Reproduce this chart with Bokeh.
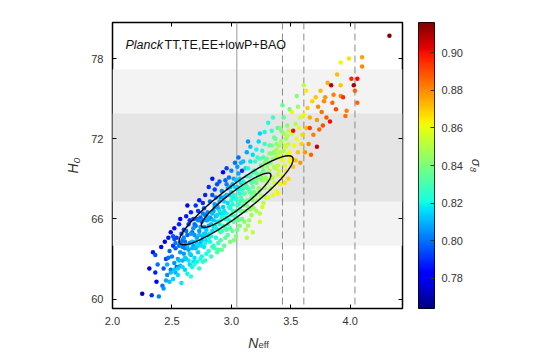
import numpy as np
from bokeh.plotting import figure
from bokeh.layouts import row, column
from bokeh.core.properties import value
from bokeh.models import (ColumnDataSource, LinearColorMapper, FixedTicker, CustomJSTickFormatter,
                          PrintfTickFormatter, BoxAnnotation, Span, Label, LinearAxis, Range1d)
from bokeh.embed import file_html
from bokeh.resources import INLINE

# ---- MCMC samples: N_eff, H0, sigma8 ----
neff = [
    2.25, 2.31, 2.33, 2.34, 2.36, 2.37, 2.38, 2.39, 2.36,
    2.41, 2.42, 2.43, 2.43, 2.44, 2.45, 2.46, 2.46, 2.47, 2.48, 2.48, 2.49, 2.49, 2.45,
    2.50, 2.51, 2.51, 2.52, 2.52, 2.53, 2.53, 2.54, 2.55, 2.55, 2.56, 2.56, 2.57, 2.57, 2.58, 2.58, 2.59, 2.59, 2.54, 2.57, 2.52, 2.59,
    2.60, 2.60, 2.61, 2.61, 2.62, 2.62, 2.63, 2.63, 2.64, 2.64, 2.65, 2.65, 2.66, 2.66, 2.67, 2.67, 2.68, 2.68, 2.69, 2.69, 2.62, 2.65, 2.66, 2.68, 2.63, 2.69, 2.61, 2.67,
    2.70, 2.70, 2.71, 2.71, 2.72, 2.72, 2.73, 2.73, 2.74, 2.74, 2.75, 2.75, 2.76, 2.76, 2.77, 2.77, 2.78, 2.78, 2.79, 2.79, 2.71, 2.73, 2.74, 2.76, 2.77, 2.78, 2.72, 2.75, 2.79, 2.70, 2.76, 2.78,
    2.80, 2.80, 2.81, 2.81, 2.82, 2.82, 2.83, 2.83, 2.84, 2.84, 2.85, 2.85, 2.86, 2.86, 2.87, 2.87, 2.88, 2.88, 2.89, 2.89, 2.81, 2.83, 2.84, 2.85, 2.86, 2.87, 2.88, 2.89, 2.82, 2.86, 2.84, 2.88, 2.80, 2.89,
    2.90, 2.90, 2.91, 2.91, 2.92, 2.92, 2.93, 2.93, 2.94, 2.94, 2.95, 2.95, 2.96, 2.96, 2.97, 2.97, 2.98, 2.98, 2.99, 2.99, 2.90, 2.91, 2.92, 2.93, 2.94, 2.95, 2.96, 2.97, 2.98, 2.99, 2.93, 2.95, 2.97, 2.91, 2.99, 2.96,
    3.00, 3.00, 3.01, 3.01, 3.02, 3.02, 3.03, 3.03, 3.04, 3.04, 3.05, 3.05, 3.06, 3.06, 3.07, 3.07, 3.08, 3.08, 3.09, 3.09, 3.00, 3.01, 3.02, 3.03, 3.04, 3.05, 3.06, 3.07, 3.08, 3.09, 3.03, 3.05, 3.07, 3.01, 3.09, 3.06,
    3.10, 3.10, 3.11, 3.11, 3.12, 3.12, 3.13, 3.13, 3.14, 3.14, 3.15, 3.15, 3.16, 3.16, 3.17, 3.17, 3.18, 3.18, 3.19, 3.19, 3.10, 3.11, 3.12, 3.13, 3.14, 3.15, 3.16, 3.17, 3.18, 3.19, 3.14, 3.16, 3.13, 3.18,
    3.20, 3.20, 3.21, 3.21, 3.22, 3.22, 3.23, 3.23, 3.24, 3.24, 3.25, 3.25, 3.26, 3.26, 3.27, 3.27, 3.28, 3.28, 3.29, 3.29, 3.21, 3.23, 3.24, 3.25, 3.26, 3.27, 3.28, 3.29, 3.24,
    3.30, 3.30, 3.31, 3.32, 3.32, 3.33, 3.33, 3.34, 3.35, 3.35, 3.36, 3.36, 3.37, 3.37, 3.38, 3.38, 3.39, 3.39, 3.31, 3.34, 3.35, 3.36, 3.38, 3.39,
    3.40, 3.40, 3.41, 3.42, 3.42, 3.43, 3.44, 3.44, 3.45, 3.45, 3.46, 3.46, 3.47, 3.47, 3.48, 3.48, 3.49, 3.49, 3.43, 3.41,
    3.50, 3.51, 3.51, 3.52, 3.52, 3.53, 3.54, 3.54, 3.55, 3.56, 3.56, 3.57, 3.58, 3.58, 3.59, 3.55,
    3.60, 3.61, 3.62, 3.63, 3.63, 3.64, 3.65, 3.66, 3.66, 3.67, 3.68, 3.69, 3.61,
    3.71, 3.72, 3.72, 3.73, 3.74, 3.75, 3.76, 3.77, 3.78, 3.79,
    3.80, 3.81, 3.83, 3.84, 3.85, 3.86, 3.88, 3.89,
    3.92, 3.92, 3.92, 3.94, 3.96, 3.97, 3.99,
    4.01, 4.03, 4.04, 4.06, 4.06, 4.10, 4.10, 4.33,
    2.47, 2.51, 2.53, 2.56, 2.58, 2.60, 2.62, 2.64, 2.66, 2.68, 2.70, 2.72, 2.74, 2.76, 2.78, 2.80, 2.82, 2.84, 2.86, 2.88, 2.90, 2.92, 2.94, 2.96, 2.98,
    3.00, 3.02, 3.04, 3.06, 3.08, 3.10, 3.12, 3.14, 3.16, 3.18, 3.20, 3.22, 3.24, 3.26, 3.28, 3.30, 3.32, 3.34, 3.36, 3.38, 3.40, 3.42, 3.44, 3.46, 3.48,
    2.49, 2.52, 2.55, 2.57, 2.59, 2.61, 2.63, 2.65, 2.67, 2.69, 2.71, 2.73, 2.75, 2.77, 2.79, 2.81, 2.83, 2.85, 2.87, 2.89, 2.91, 2.93, 2.95, 2.97, 2.99,
    3.01, 3.03, 3.05, 3.07, 3.09, 3.11, 3.13, 3.15, 3.17, 3.19, 3.21, 3.23, 3.25, 3.27, 3.29, 3.31, 3.33, 3.35, 3.37, 3.39, 3.41, 3.43, 3.45, 3.47, 3.49,
]
h0 = [
    60.4, 62.3, 60.3, 63.5, 63.3, 61.3, 62.6, 60.2, 62.0,
    63.9, 61.0, 62.3, 60.8, 64.3, 63.0, 61.8, 62.6, 64.6, 63.6, 61.3, 62.2, 65.0, 61.4,
    63.2, 64.0, 61.5, 62.7, 65.3, 63.8, 62.0, 64.6, 63.0, 61.8, 65.6, 64.0, 62.5, 63.5, 64.9, 61.2, 62.9, 63.9, 62.4, 66.0, 64.5, 64.4,
    63.4, 65.2, 62.2, 64.3, 66.2, 63.0, 64.8, 61.9, 63.7, 65.6, 62.6, 64.2, 66.5, 63.3, 65.0, 62.4, 64.0, 66.0, 63.1, 64.8, 64.0, 65.9, 61.7, 62.8, 67.0, 65.6, 63.8, 63.8,
    63.8, 65.5, 62.8, 64.6, 66.6, 63.5, 65.1, 62.3, 64.2, 66.1, 63.2, 65.8, 64.7, 67.2, 63.9, 65.4, 62.9, 66.3, 64.4, 65.9, 66.0, 67.4, 63.0, 62.8, 66.8, 64.9, 64.0, 64.4, 63.4, 67.0, 65.9, 67.8,
    64.8, 66.5, 63.6, 65.5, 67.3, 64.3, 66.0, 63.2, 65.1, 67.8, 64.0, 66.6, 65.5, 68.2, 64.6, 66.2, 63.5, 67.0, 65.2, 66.8, 68.4, 65.6, 63.9, 65.4, 63.8, 67.6, 65.8, 64.2, 66.1, 66.9, 69.0, 68.6, 65.9, 63.7,
    65.6, 67.3, 64.4, 66.4, 68.1, 65.1, 66.9, 69.5, 64.0, 66.0, 67.7, 65.3, 68.6, 66.4, 64.8, 67.2, 65.9, 69.1, 66.8, 64.3, 68.8, 65.9, 63.7, 67.6, 66.6, 64.6, 69.8, 66.0, 67.8, 65.3, 65.5, 68.9, 68.3, 67.6, 68.4, 65.2,
    66.3, 68.0, 65.1, 67.1, 69.0, 65.8, 67.6, 70.2, 64.7, 66.6, 68.4, 66.0, 69.4, 67.1, 65.5, 67.9, 66.6, 70.2, 69.6, 67.4, 69.6, 66.6, 64.4, 68.4, 67.5, 65.2, 70.6, 66.7, 68.7, 66.0, 66.2, 69.9, 69.0, 68.6, 68.2, 65.9,
    67.0, 68.8, 65.8, 67.9, 69.8, 66.6, 68.4, 71.0, 65.5, 67.4, 69.2, 66.8, 70.3, 68.0, 66.3, 68.7, 67.4, 70.8, 69.6, 66.8, 70.3, 67.3, 65.2, 69.2, 68.3, 65.9, 71.4, 67.6, 69.5, 68.0, 71.8, 66.7, 64.6, 65.0,
    67.8, 69.6, 66.6, 68.7, 70.6, 67.4, 69.3, 71.8, 66.4, 68.2, 70.0, 67.7, 71.1, 68.9, 67.2, 69.6, 68.3, 71.6, 70.3, 67.6, 71.2, 68.0, 72.4, 69.1, 66.9, 70.6, 72.5, 69.0, 65.8,
    68.7, 70.5, 67.6, 69.6, 71.5, 68.3, 70.2, 72.6, 67.8, 69.1, 71.0, 68.7, 72.0, 69.8, 68.1, 70.6, 69.3, 72.8, 73.2, 70.9, 73.6, 69.9, 71.6, 67.9,
    69.6, 71.5, 68.6, 70.5, 72.6, 69.2, 71.1, 73.6, 68.7, 70.0, 72.0, 69.6, 73.0, 70.8, 69.0, 71.6, 70.3, 74.2, 74.5, 72.8,
    70.6, 72.4, 74.0, 72.6, 69.9, 71.5, 73.1, 70.4, 72.0, 74.4, 71.0, 72.8, 70.2, 73.6, 71.6, 75.2,
    72.3, 73.8, 71.0, 75.6, 72.8, 74.3, 71.6, 72.8, 73.6, 70.8, 74.8, 72.3, 76.0,
    75.1, 71.4, 73.4, 74.4, 72.7, 75.6, 74.0, 73.0, 74.8, 75.1,
    73.6, 76.2, 73.3, 76.0, 74.7, 75.3, 74.2, 76.8,
    77.7, 76.0, 75.2, 75.1, 73.7, 74.1, 78.0,
    76.5, 76.0, 75.6, 76.5, 74.7, 77.4, 78.1, 79.7,
    63.1, 64.7, 64.2, 62.9, 64.1, 64.6, 65.1, 62.9, 64.9, 65.3, 64.3, 65.9, 65.4, 66.4, 64.2, 66.1, 64.9, 66.4, 67.1, 66.3, 66.6, 66.1, 67.3, 67.8, 66.9,
    67.4, 67.8, 68.9, 68.2, 67.6, 68.3, 68.6, 69.8, 69.2, 68.4, 70.3, 69.0, 70.5, 69.9, 70.2, 69.9, 70.9, 71.5, 72.1, 71.2, 70.7, 71.8, 72.4, 71.4, 72.6,
    62.0, 62.2, 62.3, 64.2, 62.4, 63.1, 63.9, 63.4, 64.3, 62.6, 64.1, 64.8, 64.0, 64.9, 65.2, 64.5, 64.7, 65.9, 65.3, 65.8, 65.0, 66.4, 66.1, 65.6, 66.9,
    67.6, 65.9, 67.0, 67.3, 66.6, 67.9, 67.0, 68.1, 67.9, 68.8, 69.4, 68.3, 69.4, 68.9, 69.1, 70.2, 69.0, 70.5, 70.9, 70.0, 71.0, 70.4, 71.5, 72.2, 71.0,
]
sigma8 = [
    .770, .776, .790, .785, .795, .781, .800, .802, .788,
    .782, .800, .795, .806, .778, .792, .804, .810, .786, .798, .812, .800, .780, .808,
    .802, .790, .814, .805, .784, .797, .810, .792, .808, .816, .788, .800, .812, .806, .795, .818, .810, .803, .798, .782, .794, .799,
    .806, .792, .815, .800, .786, .810, .798, .820, .808, .794, .816, .804, .788, .812, .800, .820, .809, .794, .816, .805, .803, .791, .824, .818, .783, .800, .802, .811,
    .812, .800, .820, .808, .792, .815, .806, .824, .812, .798, .820, .802, .810, .790, .818, .806, .825, .800, .815, .805, .797, .786, .822, .826, .796, .812, .814, .813, .822, .790, .804, .788,
    .815, .804, .824, .810, .798, .820, .808, .828, .816, .795, .824, .806, .814, .792, .822, .812, .830, .806, .819, .810, .790, .813, .826, .818, .829, .802, .817, .828, .806, .807, .786, .795, .809, .832,
    .820, .810, .830, .816, .803, .826, .814, .780, .834, .822, .810, .828, .802, .820, .834, .816, .826, .800, .821, .838, .796, .823, .836, .811, .818, .832, .792, .825, .814, .831, .827, .798, .808, .806, .810, .830,
    .826, .815, .836, .822, .808, .832, .820, .800, .840, .828, .816, .834, .808, .826, .840, .822, .832, .812, .790, .828, .803, .829, .842, .816, .823, .838, .800, .830, .818, .836, .831, .806, .814, .812, .824, .836,
    .834, .822, .842, .830, .816, .838, .828, .808, .846, .836, .824, .840, .818, .832, .846, .830, .840, .816, .826, .846, .812, .836, .848, .822, .830, .846, .812, .838, .826, .836, .806, .842, .850, .852,
    .840, .830, .848, .836, .824, .844, .834, .816, .850, .842, .830, .848, .824, .840, .852, .836, .846, .826, .834, .852, .820, .843, .814, .838, .855, .830, .820, .844, .856,
    .848, .838, .856, .846, .832, .852, .842, .826, .858, .850, .840, .855, .834, .848, .860, .845, .854, .832, .822, .840, .826, .850, .842, .862,
    .856, .846, .862, .852, .840, .862, .850, .834, .866, .858, .848, .864, .842, .856, .868, .852, .862, .840, .836, .842,
    .864, .854, .862, .900, .870, .862, .850, .872, .860, .846, .870, .858, .878, .856, .868, .842,
    .868, .862, .878, .864, .872, .870, .880, .892, .874, .886, .868, .882, .852,
    .870, .905, .878, .880, .886, .872, .884, .890, .880, .878,
    .888, .874, .900, .908, .886, .882, .890, .872,
    .862, .870, .880, .895, .884, .882, .866,
    .896, .910, .886, .900, .886, .880, .876, .915,
    .800, .796, .801, .812, .806, .804, .800, .818, .806, .805, .814, .802, .808, .802, .820, .810, .818, .812, .806, .816, .818, .822, .816, .812, .824,
    .824, .824, .814, .822, .830, .828, .830, .822, .830, .838, .828, .840, .832, .840, .842, .846, .842, .838, .836, .848, .854, .848, .846, .856, .852,
    .812, .813, .814, .800, .816, .814, .810, .815, .810, .824, .816, .812, .818, .814, .814, .822, .822, .814, .820, .818, .828, .818, .822, .828, .822,
    .820, .834, .828, .828, .836, .832, .840, .834, .838, .834, .834, .846, .838, .846, .846, .842, .852, .846, .846, .854, .850, .858, .854, .850, .862,
]
assert len(neff) == len(h0) == len(sigma8)

# 2D posterior contour (68% / 95%) parameters
contour_center = (3.04, 67.4)
contour_sigma_neff = 0.193
contour_sigma_h0 = 1.34
contour_rho = 0.919
contour_chi2 = [2.30, 6.18]

# Local H0 band
h0_local = 70.6
h0_local_sigma = 3.3

# Reference lines
neff_standard = 3.046
neff_dashed = [3.43, 3.61, 4.04]

x_ticks = [2.0, 2.5, 3.0, 3.5, 4.0]
y_ticks = [60, 66, 72, 78]
cb_ticks = [0.78, 0.80, 0.82, 0.84, 0.86, 0.88, 0.90]
s8_low, s8_high = 0.764, 0.916


def jet(n=256):
    t = np.linspace(0, 1, n)
    r = np.interp(t, [0, 0.35, 0.66, 0.89, 1], [0, 0, 1, 1, 0.5])
    g = np.interp(t, [0, 0.125, 0.375, 0.64, 0.91, 1], [0, 0, 1, 1, 0, 0])
    b = np.interp(t, [0, 0.11, 0.34, 0.65, 1], [0.5, 1, 1, 0, 0])
    return ["#%02x%02x%02x" % (int(round(255 * a)), int(round(255 * c)), int(round(255 * d)))
            for a, c, d in zip(r, g, b)]


FONT = "Liberation Sans"
TXT = "#333333"
EMPTY = CustomJSTickFormatter(code="return ''")

# ------------------------------------------------------------------ main panel
p = figure(width=404, height=332, x_range=Range1d(2.0, 4.44), y_range=Range1d(59.3, 80.7),
           output_backend="svg", toolbar_location=None,
           min_border_left=112, min_border_top=22, min_border_bottom=24, min_border_right=2)
p.grid.visible = False
p.outline_line_color = "black"
p.outline_line_width = 1.5
p.background_fill_color = "white"

p.add_layout(BoxAnnotation(bottom=h0_local - 2 * h0_local_sigma, top=h0_local + 2 * h0_local_sigma,
                           fill_color="#f3f3f3", fill_alpha=1, line_color=None, level="underlay"))
p.add_layout(BoxAnnotation(bottom=h0_local - h0_local_sigma, top=h0_local + h0_local_sigma,
                           fill_color="#e5e5e5", fill_alpha=1, line_color=None, level="underlay"))

p.add_layout(Span(location=neff_standard, dimension="height", line_color="#9a9a9a", line_width=1,
                  level="underlay"))
for loc in neff_dashed:
    p.add_layout(Span(location=loc, dimension="height", line_color="#8a8a8a", line_width=1,
                      line_dash="7 4", level="underlay"))

mapper = LinearColorMapper(palette=jet(), low=s8_low, high=s8_high)
src = ColumnDataSource(dict(x=neff, y=h0, s=sigma8))
p.scatter("x", "y", source=src, size=4.5, marker="circle",
          fill_color={"field": "s", "transform": mapper}, line_color=None)

t = np.linspace(0, 2 * np.pi, 300)
cov = np.array([[contour_sigma_neff ** 2, contour_rho * contour_sigma_neff * contour_sigma_h0],
                [contour_rho * contour_sigma_neff * contour_sigma_h0, contour_sigma_h0 ** 2]])
L = np.linalg.cholesky(cov)
for c2 in contour_chi2:
    pts = np.sqrt(c2) * (L @ np.vstack([np.cos(t), np.sin(t)]))
    p.line(contour_center[0] + pts[0], contour_center[1] + pts[1], line_color="black", line_width=1.4)


def style_axis(ax):
    ax.axis_line_color = None
    ax.major_tick_in = 4
    ax.major_tick_out = 0
    ax.minor_tick_in = 0
    ax.minor_tick_out = 0
    ax.major_tick_line_color = "black"
    ax.major_label_text_font = FONT
    ax.major_label_text_font_size = "11px"
    ax.major_label_text_color = TXT


xa = p.xaxis[0]
ya = p.yaxis[0]
xa.ticker = FixedTicker(ticks=x_ticks)
xa.formatter = PrintfTickFormatter(format="%.1f")
ya.ticker = FixedTicker(ticks=y_ticks)
style_axis(xa)
style_axis(ya)
xa.major_label_standoff = 8
ya.major_label_standoff = 9
ya.axis_label = "H₀"
ya.axis_label_text_font = FONT
ya.axis_label_text_font_style = "italic"
ya.axis_label_text_font_size = "14px"
ya.axis_label_text_color = TXT
ya.axis_label_standoff = 7

top_ax = LinearAxis(ticker=FixedTicker(ticks=x_ticks), formatter=EMPTY)
style_axis(top_ax)
top_ax.major_label_standoff = 0
p.add_layout(top_ax, "above")
right_ax = LinearAxis(ticker=FixedTicker(ticks=y_ticks), formatter=EMPTY)
style_axis(right_ax)
right_ax.major_label_standoff = 0
p.add_layout(right_ax, "right")

p.add_layout(Label(x=13, y=264, x_units="screen", y_units="screen", text="Planck",
                   text_font=FONT, text_font_style="italic", text_font_size="12.5px",
                   text_color="#111111", text_baseline="alphabetic"))
p.add_layout(Label(x=52, y=264, x_units="screen", y_units="screen", text="TT,TE,EE+lowP+BAO",
                   text_font=FONT, text_font_size="12.5px",
                   text_color="#111111", text_baseline="alphabetic"))

# ------------------------------------------------------------------ x axis label N_eff
px = figure(width=404, height=20, x_range=p.x_range, y_range=Range1d(0, 20),
            output_backend="svg", toolbar_location=None,
            x_axis_location=None, y_axis_location=None,
            min_border_left=112, min_border_right=2, min_border_top=0, min_border_bottom=0)
px.grid.visible = False
px.outline_line_color = None
px.text(x=[3.143], y=[10], text=["N"], text_font=value(FONT), text_font_style="italic",
        text_font_size="14px", text_color=TXT, text_baseline="alphabetic")
px.text(x=[3.228], y=[8], text=["eff"], text_font=value(FONT),
        text_font_size="9.5px", text_color=TXT, text_baseline="alphabetic")

# ------------------------------------------------------------------ colour bar panel
pc = figure(width=100, height=332, x_range=Range1d(0, 1), y_range=Range1d(s8_low, s8_high),
            output_backend="svg", toolbar_location=None, y_axis_location="right",
            min_border_left=14, min_border_right=70, min_border_top=22, min_border_bottom=24)
pc.grid.visible = False
pc.xaxis.visible = False
pc.outline_line_color = "black"
pc.outline_line_width = 1
pc.image(image=[np.linspace(s8_low, s8_high, 256).reshape(256, 1)], x=0, y=s8_low, dw=1,
         dh=s8_high - s8_low, color_mapper=mapper)
ca = pc.yaxis[0]
ca.ticker = FixedTicker(ticks=cb_ticks)
ca.formatter = PrintfTickFormatter(format="%.2f")
style_axis(ca)
ca.major_tick_line_color = "#333333"
ca.major_label_standoff = 7
ca.axis_label = "σ₈"
ca.axis_label_text_font = FONT
ca.axis_label_text_font_style = "italic"
ca.axis_label_text_font_size = "13px"
ca.axis_label_text_color = TXT
ca.axis_label_standoff = 3

layout = row(column(p, px), pc)
open("out.html", "w").write(file_html(layout, INLINE))
